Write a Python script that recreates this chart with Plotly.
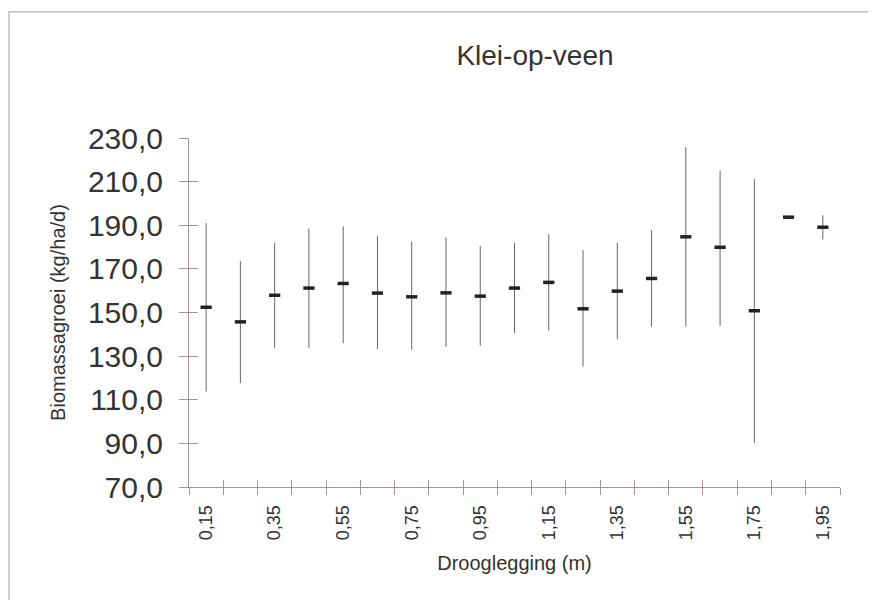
import plotly.graph_objects as go

# Data
drooglegging = [0.15, 0.25, 0.35, 0.45, 0.55, 0.65, 0.75, 0.85, 0.95, 1.05,
                1.15, 1.25, 1.35, 1.45, 1.55, 1.65, 1.75, 1.85, 1.95]
gemiddelde = [152.4, 145.7, 157.9, 161.2, 163.3, 158.9, 157.2, 159.0, 157.5, 161.2,
              163.8, 151.7, 159.8, 165.6, 184.7, 179.9, 150.8, 193.7, 189.1]
bovengrens = [191.0, 173.5, 181.9, 188.5, 189.5, 185.0, 182.4, 184.4, 180.5, 181.9,
              185.9, 178.6, 181.9, 187.7, 225.8, 215.1, 211.3, 193.7, 194.6]
ondergrens = [113.8, 117.6, 133.6, 133.6, 135.9, 133.2, 132.9, 134.3, 134.7, 140.5,
              141.7, 125.2, 137.7, 143.5, 143.5, 143.8, 90.2, 193.7, 183.5]

label_vals = [0.15, 0.35, 0.55, 0.75, 0.95, 1.15, 1.35, 1.55, 1.75, 1.95]
label_text = ["0,15", "0,35", "0,55", "0,75", "0,95", "1,15", "1,35", "1,55", "1,75", "1,95"]
cat_bounds = [0.1, 0.2, 0.3, 0.4, 0.5, 0.6, 0.7, 0.8, 0.9, 1.0,
              1.1, 1.2, 1.3, 1.4, 1.5, 1.6, 1.7, 1.8, 1.9, 2.0]
y_ticks = [70, 90, 110, 130, 150, 170, 190, 210, 230]

FONT = "Liberation Sans, Arial, sans-serif"
TXT = "#333333"
AXC = "#a89494"

err_plus = [u - m for u, m in zip(bovengrens, gemiddelde)]
err_minus = [m - l for m, l in zip(gemiddelde, ondergrens)]

fig = go.Figure()
fig.add_trace(go.Scatter(
    x=drooglegging, y=gemiddelde, mode="markers",
    marker=dict(symbol="line-ew", size=8, color="#222222",
                line=dict(color="#222222", width=3.5)),
    error_y=dict(type="data", symmetric=False, array=err_plus, arrayminus=err_minus,
                 color="#666666", thickness=1, width=0),
    showlegend=False, hoverinfo="x+y",
))
# invisible helpers so the overlaid tick axes (inner half of the crossing ticks) render
fig.add_trace(go.Scatter(x=drooglegging, y=gemiddelde, xaxis="x2", yaxis="y",
                         mode="markers", marker=dict(opacity=0), showlegend=False,
                         hoverinfo="skip"))
fig.add_trace(go.Scatter(x=drooglegging, y=gemiddelde, xaxis="x", yaxis="y2",
                         mode="markers", marker=dict(opacity=0), showlegend=False,
                         hoverinfo="skip"))

# the page has an 8px body margin, so the figure is offset by 8px
OFF = 8
W, H = 876 - OFF, 600 - OFF
L, T = 189 - OFF, 137.5 - OFF
R = W - (840 - OFF)
B = H - (487.5 - OFF)
pw = W - L - R
ph = H - T - B

fig.update_layout(
    width=W, height=H,
    margin=dict(l=L, r=R, t=T, b=B, pad=0),
    paper_bgcolor="white", plot_bgcolor="white",
    separators=",.",
    font=dict(family=FONT, color=TXT),
    title=dict(text="Klei-op-veen", x=(535 - OFF) / W, xanchor="center", xref="container",
               y=1 - (55 - OFF) / H, yanchor="middle", yref="container",
               font=dict(size=28, color=TXT, family=FONT)),
    xaxis=dict(
        range=[0.1, 2.0], tickmode="array", tickvals=label_vals, ticktext=label_text,
        tickangle=-90, ticks="", showgrid=False, zeroline=False,
        showline=True, linecolor=AXC, linewidth=1,
        tickfont=dict(size=18, color=TXT), ticklabelstandoff=10,
        minor=dict(tickmode="array", tickvals=cat_bounds, ticks="outside",
                   ticklen=7, tickwidth=1, tickcolor=AXC, showgrid=False),
        title=dict(text="Drooglegging (m)", font=dict(size=20, color=TXT), standoff=16),
    ),
    xaxis2=dict(
        range=[0.1, 2.0], overlaying="x", anchor="y", side="bottom",
        tickmode="array", tickvals=cat_bounds, ticks="inside", ticklen=7,
        tickwidth=1, tickcolor=AXC, showticklabels=False, showgrid=False,
        zeroline=False, showline=False,
    ),
    yaxis=dict(
        range=[70, 230], tickmode="array", tickvals=y_ticks, tickformat=".1f",
        ticks="outside", ticklen=9, tickwidth=1, tickcolor=AXC,
        showgrid=False, zeroline=False, showline=True, linecolor=AXC, linewidth=1,
        tickfont=dict(size=30, color=TXT), ticklabelstandoff=10,
        title=dict(text="Biomassagroei (kg/ha/d)", font=dict(size=20, color=TXT), standoff=16),
    ),
    yaxis2=dict(
        range=[70, 230], overlaying="y", anchor="x", side="left",
        tickmode="array", tickvals=y_ticks, ticks="inside", ticklen=9,
        tickwidth=1, tickcolor=AXC, showticklabels=False, showgrid=False,
        zeroline=False, showline=False,
    ),
    shapes=[dict(
        type="rect", xref="paper", yref="paper",
        x0=(1 - L) / pw, x1=(W + 10 - L) / pw,
        y0=-(B + 10) / ph, y1=(T + ph - 3) / ph,
        line=dict(color="#bdbdbd", width=1.5), fillcolor="rgba(0,0,0,0)", layer="below",
    )],
)

fig.write_html("out.html")
